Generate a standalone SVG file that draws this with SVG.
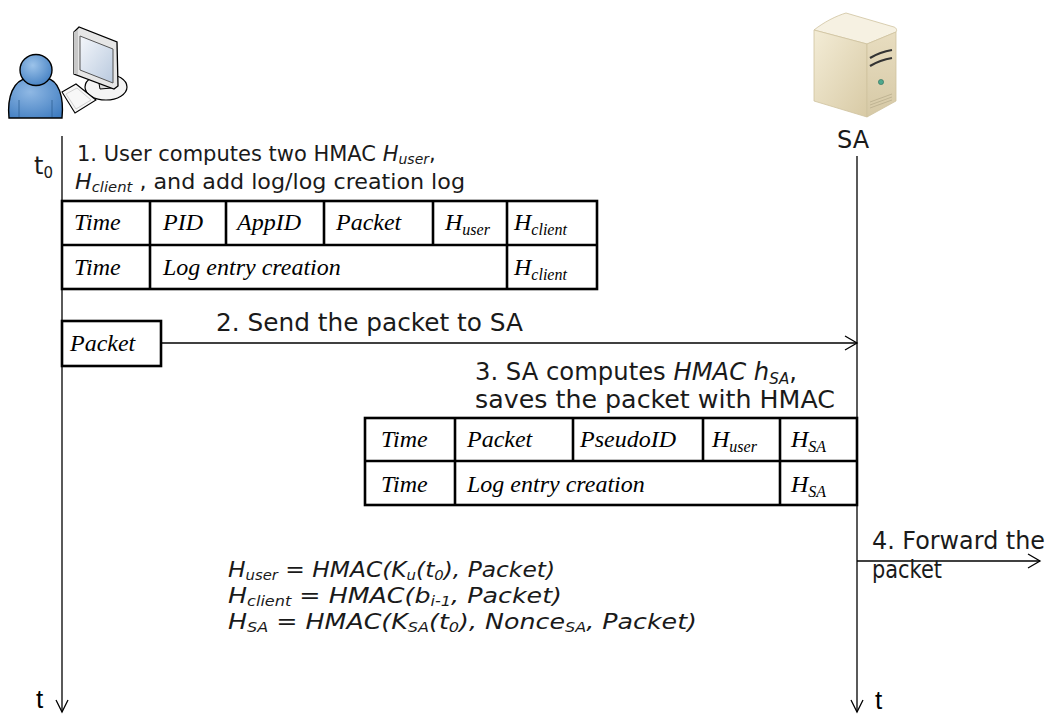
<svg xmlns="http://www.w3.org/2000/svg" width="1053" height="719" viewBox="0 0 1053 719">
  <style>
    .sans { font-family: "DejaVu Sans", "Liberation Sans", sans-serif; font-size: 24px; fill: #1a1a1a; }
    .s1 { font-size: 21px; }
    .fx { font-size: 22px; }
    .ital { font-style: italic; }
    .sub { font-size: 15px; }
    .fsub { font-size: 14px; }
    .serif { font-family: "Liberation Serif", "Times New Roman", serif; font-style: italic; font-size: 24px; fill: #000; }
    .ssub { font-size: 16px; }
    .tlabel { font-family: "Liberation Sans", Arial, sans-serif; font-size: 26px; fill: #000; }
    .life { stroke: #000; stroke-width: 1.3; fill: none; }
    .cell { stroke: #000; stroke-width: 2.6; fill: #fff; }
    .div { stroke: #000; stroke-width: 2.6; }
    .head { stroke: #000; stroke-width: 1.3; fill: none; }
  </style>
  <defs>
    <radialGradient id="bodyGrad" cx="0.4" cy="0.35" r="0.8">
      <stop offset="0" stop-color="#8fb8e4"/>
      <stop offset="1" stop-color="#3f7cc0"/>
    </radialGradient>
    <radialGradient id="headGrad" cx="0.4" cy="0.35" r="0.75">
      <stop offset="0" stop-color="#9cc3ea"/>
      <stop offset="1" stop-color="#3f7cc0"/>
    </radialGradient>
    <linearGradient id="screenGrad" x1="0" y1="0" x2="1" y2="1">
      <stop offset="0" stop-color="#f4f7fb"/>
      <stop offset="1" stop-color="#b9c9de"/>
    </linearGradient>
    <linearGradient id="srvLeft" x1="0" y1="0" x2="1" y2="1">
      <stop offset="0" stop-color="#f3ecd6"/>
      <stop offset="1" stop-color="#d8caa5"/>
    </linearGradient>
    <linearGradient id="srvRight" x1="0" y1="0" x2="0" y2="1">
      <stop offset="0" stop-color="#e8ddc0"/>
      <stop offset="1" stop-color="#d6c9a6"/>
    </linearGradient>
  </defs>

  <!-- user workstation icon -->
  <g id="user">
    <!-- monitor stand -->
    <ellipse cx="106" cy="87" rx="21" ry="13" fill="#f4f4f4" stroke="#000" stroke-width="1.2"/>
    <path d="M98,78 L110,80 L112,88 L100,89 Z" fill="#dcdcdc" stroke="#000" stroke-width="1"/>
    <!-- monitor -->
    <path d="M74,32 L79,27 L117,42 L118,86 L114,89 L74,74 Z" fill="#e6e6e6" stroke="#000" stroke-width="1.3"/>
    <path d="M74,32 L78,30 L78,74 L74,74 Z" fill="#c8c8c8"/>
    <path d="M80,36 L113,49 L113,83 L80,70 Z" fill="url(#screenGrad)" stroke="#555" stroke-width="1"/>
    <!-- keyboard -->
    <path d="M62,92 L76,84 L96,100 L75,113 Z" fill="#f7f7f7" stroke="#000" stroke-width="1.1"/>
    <path d="M66,94 L77,88 L91,100 L76,109 Z" fill="none" stroke="#c8c8c8" stroke-width="0.8"/>
    <!-- person -->
    <path d="M9,118 C7,97 13,80 28,78 L46,78 C59,80 64,97 62,118 Z" fill="url(#bodyGrad)" stroke="#000" stroke-width="1.4"/>
    <path d="M19,100 L19,117 M52,100 L52,117" stroke="#2f5f96" stroke-width="0.8"/>
    <ellipse cx="36" cy="70" rx="16" ry="15.5" fill="url(#headGrad)" stroke="#000" stroke-width="1.4"/>
  </g>

  <!-- SA server icon -->
  <g id="server">
    <path d="M814,30 C824,22 836,16 846,13 L894,27 C897,28 897,31 896,32 L867,44 Z" fill="#f6f1e2" stroke="#cfc3a0" stroke-width="0.8"/>
    <path d="M814,30 L867,44 L867,117 L814,101 Z" fill="url(#srvLeft)" stroke="#cfc3a0" stroke-width="0.8"/>
    <path d="M867,44 L896,32 L896,101 L867,117 Z" fill="url(#srvRight)" stroke="#cfc3a0" stroke-width="0.8"/>
    <path d="M870,58 Q880,52 892,50" stroke="#333" stroke-width="2.2" fill="none"/>
    <path d="M870,66 Q880,60 892,58" stroke="#333" stroke-width="2.2" fill="none"/>
    <circle cx="881" cy="82" r="2.6" fill="#4fa88d" stroke="#2f6f5c" stroke-width="0.6"/>
    <path d="M870,102 L892,94 M870,105 L892,97 M870,108 L892,100" stroke="#b9ad8d" stroke-width="0.8"/>
    <text x="837" y="148" class="sans">SA</text>
  </g>

  <!-- lifelines and messages -->
  <g id="connectors">
    <line x1="62" y1="136" x2="62" y2="712" class="life"/>
    <polyline points="56,700 62,712 68,700" class="head"/>
    <line x1="857" y1="156" x2="857" y2="712" class="life"/>
    <polyline points="851,700 857,712 863,700" class="head"/>
    <!-- send packet -->
    <line x1="161" y1="343" x2="857" y2="343" class="life"/>
    <polyline points="845,336 857,343 845,350" class="head"/>
    <!-- forward packet -->
    <line x1="857" y1="561" x2="1040" y2="561" class="life"/>
    <polyline points="1028,554 1040,561 1028,568" class="head"/>
  </g>

  <!-- time labels -->
  <g id="time-labels">
    <text x="34" y="174" class="sans">t<tspan class="sub" dy="4">0</tspan></text>
    <text x="36" y="708" class="tlabel">t</text>
    <text x="875" y="709" class="tlabel">t</text>
  </g>

  <!-- step 1 -->
  <g id="step1">
    <text x="77" y="161" class="sans s1">1. User computes two HMAC <tspan class="ital">H</tspan><tspan class="ital fsub" dy="3">user</tspan><tspan dy="-3">,</tspan></text>
    <text x="75" y="189" class="sans s1" textLength="390" lengthAdjust="spacingAndGlyphs"><tspan class="ital">H</tspan><tspan class="ital fsub" dy="3">client</tspan><tspan dy="-3"> , and add log/log creation log</tspan></text>
  </g>

  <!-- user log table -->
  <g id="user-log">
    <rect x="62" y="201" width="535" height="88" class="cell"/>
    <line x1="62" y1="245" x2="597" y2="245" class="div"/>
    <line x1="150" y1="201" x2="150" y2="289" class="div"/>
    <line x1="226" y1="201" x2="226" y2="245" class="div"/>
    <line x1="324" y1="201" x2="324" y2="245" class="div"/>
    <line x1="433" y1="201" x2="433" y2="245" class="div"/>
    <line x1="507" y1="201" x2="507" y2="289" class="div"/>
    <text x="74" y="230" class="serif">Time</text>
    <text x="163" y="230" class="serif">PID</text>
    <text x="237" y="230" class="serif">AppID</text>
    <text x="336" y="230" class="serif">Packet</text>
    <text x="445" y="230" class="serif">H<tspan class="ssub" dy="5">user</tspan></text>
    <text x="514" y="230" class="serif">H<tspan class="ssub" dy="5">client</tspan></text>
    <text x="74" y="275" class="serif">Time</text>
    <text x="163" y="275" class="serif">Log entry creation</text>
    <text x="514" y="275" class="serif">H<tspan class="ssub" dy="5">client</tspan></text>
  </g>

  <!-- step 2 -->
  <g id="packet">
    <rect x="62" y="321" width="99" height="45" class="cell"/>
    <text x="70" y="351" class="serif">Packet</text>
    <text x="216" y="331" class="sans" textLength="307" lengthAdjust="spacingAndGlyphs">2. Send the packet to SA</text>
  </g>

  <!-- step 3 -->
  <g id="step3">
    <text x="475" y="380" class="sans" textLength="322" lengthAdjust="spacingAndGlyphs">3. SA computes <tspan class="ital">HMAC h</tspan><tspan class="ital sub" dy="4">SA</tspan><tspan dy="-4">,</tspan></text>
    <text x="475" y="408" class="sans" textLength="360" lengthAdjust="spacingAndGlyphs">saves the packet with HMAC</text>
  </g>

  <!-- SA log table -->
  <g id="sa-log">
    <rect x="365" y="418" width="492" height="87" class="cell"/>
    <line x1="365" y1="461" x2="857" y2="461" class="div"/>
    <line x1="455" y1="418" x2="455" y2="505" class="div"/>
    <line x1="573" y1="418" x2="573" y2="461" class="div"/>
    <line x1="703" y1="418" x2="703" y2="461" class="div"/>
    <line x1="780" y1="418" x2="780" y2="505" class="div"/>
    <text x="381" y="447" class="serif">Time</text>
    <text x="467" y="447" class="serif">Packet</text>
    <text x="580" y="447" class="serif">PseudoID</text>
    <text x="712" y="447" class="serif">H<tspan class="ssub" dy="5">user</tspan></text>
    <text x="791" y="447" class="serif">H<tspan class="ssub" dy="5">SA</tspan></text>
    <text x="381" y="492" class="serif">Time</text>
    <text x="467" y="492" class="serif">Log entry creation</text>
    <text x="791" y="492" class="serif">H<tspan class="ssub" dy="5">SA</tspan></text>
  </g>

  <!-- step 4 -->
  <g id="step4">
    <text x="872" y="549" class="sans" textLength="173" lengthAdjust="spacingAndGlyphs">4. Forward the</text>
    <text x="872" y="578" class="sans" textLength="70" lengthAdjust="spacingAndGlyphs">packet</text>
  </g>

  <!-- HMAC definitions -->
  <g id="formulas">
    <text x="228" y="577" class="sans fx ital" textLength="327" lengthAdjust="spacingAndGlyphs">H<tspan class="fsub" dy="3">user</tspan><tspan dy="-3"> = HMAC(K</tspan><tspan class="fsub" dy="3">u</tspan><tspan dy="-3">(t</tspan><tspan class="fsub" dy="3">0</tspan><tspan dy="-3">), Packet)</tspan></text>
    <text x="228" y="603" class="sans fx ital" textLength="334" lengthAdjust="spacingAndGlyphs">H<tspan class="fsub" dy="3">client</tspan><tspan dy="-3"> = HMAC(b</tspan><tspan class="fsub" dy="3">i-1</tspan><tspan dy="-3">, Packet)</tspan></text>
    <text x="228" y="629" class="sans fx ital" textLength="469" lengthAdjust="spacingAndGlyphs">H<tspan class="fsub" dy="3">SA</tspan><tspan dy="-3"> = HMAC(K</tspan><tspan class="fsub" dy="3">SA</tspan><tspan dy="-3">(t</tspan><tspan class="fsub" dy="3">0</tspan><tspan dy="-3">), Nonce</tspan><tspan class="fsub" dy="3">SA</tspan><tspan dy="-3">, Packet)</tspan></text>
  </g>
</svg>
